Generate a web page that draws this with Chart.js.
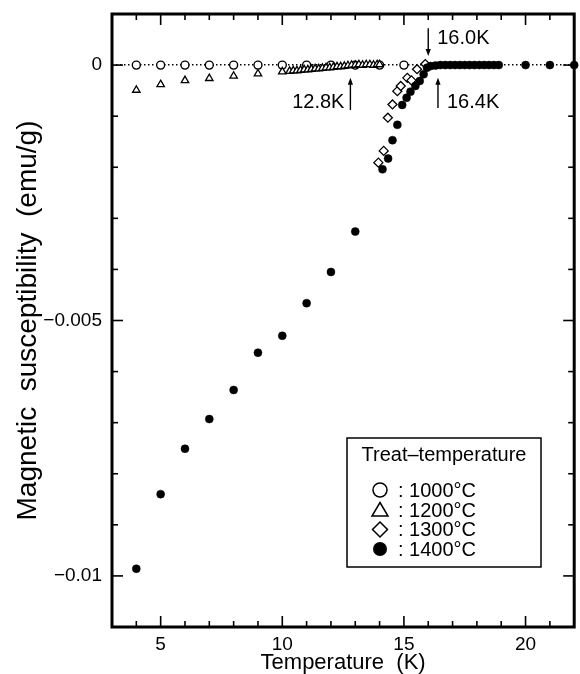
<!DOCTYPE html>
<html><head><meta charset="utf-8">
<script src="https://cdn.jsdelivr.net/npm/chart.js@4.4.0/dist/chart.umd.min.js"></script>
<style>html,body{margin:0;padding:0;background:#fff}canvas{display:block}</style>
</head><body>
<canvas id="c" width="580" height="674"></canvas>
<script>
// ---------- data ----------
const seriesLabels = ["1000°C", "1200°C", "1300°C", "1400°C"];
const legendTitle = "Treat–temperature";

const t1000 = [4, 5, 6, 7, 8, 9, 10, 11, 12, 13, 14, 15];
const chi1000 = [0, 0, 0, 0, 0, 0, 0, 0, 0, 0, 0, 0];

const t1200 = [4, 5, 6, 7, 8, 9, 10,
  10.3, 10.45, 10.6, 10.75, 10.9, 11.05, 11.2, 11.35, 11.5, 11.65, 11.8, 11.95, 12.1,
  12.25, 12.4, 12.55, 12.7, 12.85, 13.0, 13.15, 13.3, 13.45, 13.6, 13.75, 13.9, 14.0];
const chi1200 = [-0.00049, -0.00038, -0.00030, -0.00026, -0.000215, -0.00017, -0.00013,
  -0.00012, -0.00011, -0.00011, -0.00010, -0.00009, -0.00009, -0.00008, -0.00007, -0.00007, -0.00006, -0.00005, -0.00005, -0.00004,
  -0.00003, -0.00003, -0.00002, -0.00001, 0, 0, 0.00001, 0, 0.00001, 0.00001, 0, 0.00001, 0.00001];

const t1300 = [13.95, 14.17, 14.34, 14.53, 14.73, 14.87, 15.14, 15.31, 15.54, 15.88];
const chi1300 = [-0.00191, -0.00168, -0.00103, -0.00077, -0.00051, -0.00041, -0.00025, -0.00030, -0.00008, 0.00002];

const t1400 = [4, 5, 6, 7, 8, 9, 10, 11, 12, 13,
  14.12, 14.35, 14.53, 14.73, 14.93, 15.11, 15.27, 15.47, 15.65, 15.81, 15.95,
  16.1, 16.3, 16.5, 16.7, 16.9, 17.1, 17.3, 17.5, 17.7, 17.9, 18.1, 18.3, 18.5, 18.7, 18.9,
  20, 21, 22];
const chi1400 = [-0.00986, -0.0084, -0.00751, -0.00693, -0.00636, -0.00563, -0.0053, -0.00466, -0.00405, -0.00326,
  -0.00204, -0.00183, -0.00147, -0.00117, -0.00078, -0.00064, -0.00052, -0.00041, -0.00031, -0.00018, -0.00005,
  -0.00002, -0.00001, 0, 0, 0, 0, 0, 0, 0, 0, 0, 0, 0, 0, 0,
  0, 0, 0];

const xTickValues = [5, 10, 15, 20];
const xTickLabels = ["5", "10", "15", "20"];
const yTickValues = [0, -0.005, -0.01];
const yTickLabels = ["0", "−0.005", "−0.01"];

// annotations: temperature marks
const markTemps = [12.8, 16.0, 16.4];
const markLabels = ["12.8K", "16.0K", "16.4K"];
const markTip = [-0.00025, 0.00018, -0.00025];   // arrow tip (emu/g)
const markTail = [-0.00088, 0.00072, -0.00084];  // arrow tail (emu/g)
const markTextY = [-0.00074, 0.00053, -0.00074];

const xMin = 3, xMax = 22, yMin = -0.011, yMax = 0.001;
const xStep = 1, yStep = 0.001;

// ---------- helpers ----------
const FONT = "'Liberation Sans', Arial, Helvetica, sans-serif";
const pts = (xs, ys) => xs.map((v, i) => ({x: v, y: ys[i]}));

const framePlugin = {
  id: 'frameTicks',
  afterDraw(chart) {
    const {ctx, chartArea: a, scales: {x, y}} = chart;
    ctx.save();
    ctx.strokeStyle = '#000';
    ctx.fillStyle = '#000';
    ctx.lineCap = 'butt';
    const line = (x1, y1, x2, y2) => { ctx.beginPath(); ctx.moveTo(x1, y1); ctx.lineTo(x2, y2); ctx.stroke(); };
    ctx.lineWidth = 1.6;
    for (let v = xMin + xStep; v < xMax - 1e-9; v += xStep) {
      const px = x.getPixelForValue(v);
      const L = (Math.round(v) % 5 === 0) ? 11 : 6;
      line(px, a.bottom, px, a.bottom - L);
      line(px, a.top, px, a.top + L);
    }
    const kMin = Math.round(yMin / yStep), kMax = Math.round(yMax / yStep);
    for (let k = kMin + 1; k < kMax; k++) {
      const py = y.getPixelForValue(k * yStep);
      const L = (k % 5 === 0) ? 11 : 6;
      line(a.left, py, a.left + L, py);
      line(a.right, py, a.right - L, py);
    }
    ctx.lineWidth = 3;
    ctx.strokeRect(a.left, a.top, a.width, a.height);

    // arrows + labels
    ctx.lineWidth = 1.4;
    ctx.font = "20px " + FONT;
    ctx.textBaseline = 'middle';
    markTemps.forEach((t, i) => {
      const px = x.getPixelForValue(t);
      const pTip = y.getPixelForValue(markTip[i]);
      const pTail = y.getPixelForValue(markTail[i]);
      const dir = pTip < pTail ? -1 : 1; // -1 up
      line(px, pTail, px, pTip - dir * 5);
      ctx.beginPath();
      ctx.moveTo(px, pTip);
      ctx.lineTo(px - 2.6, pTip - dir * 7);
      ctx.lineTo(px + 2.6, pTip - dir * 7);
      ctx.closePath(); ctx.fill();
      const ty = y.getPixelForValue(markTextY[i]);
      if (i === 0) { ctx.textAlign = 'right'; ctx.fillText(markLabels[i], px - 6, ty); }
      else { ctx.textAlign = 'left'; ctx.fillText(markLabels[i], px + 9, ty); }
    });

    // legend box
    const bx = 347, by = 438, bw = 194, bh = 129;
    ctx.lineWidth = 1.5;
    ctx.strokeRect(bx, by, bw, bh);
    ctx.textAlign = 'center';
    ctx.font = "20px " + FONT;
    ctx.fillText(legendTitle, bx + bw / 2, by + 17);
    const rows = [490, 510, 529.5, 549];
    const sx = 380;
    chart.data.datasets.forEach((ds, i) => {
      const yy = rows[i];
      ctx.lineWidth = 1.5;
      const st = ds.pointStyle, r = 7;
      ctx.beginPath();
      if (st === 'circle') { ctx.arc(sx, yy, r, 0, Math.PI * 2); }
      else if (st === 'triangle') { ctx.moveTo(sx, yy - 7.5); ctx.lineTo(sx + 8, yy + 6); ctx.lineTo(sx - 8, yy + 6); ctx.closePath(); }
      else if (st === 'rectRot') { ctx.moveTo(sx, yy - 7.5); ctx.lineTo(sx + 7.5, yy); ctx.lineTo(sx, yy + 7.5); ctx.lineTo(sx - 7.5, yy); ctx.closePath(); }
      if (ds.pointBackgroundColor === '#000') ctx.fill(); else ctx.stroke();
      ctx.textAlign = 'left';
      ctx.fillText(": " + ds.label, 398, yy + 1);
    });
    ctx.restore();
  }
};

new Chart(document.getElementById('c'), {
  type: 'scatter',
  data: {
    datasets: [
      {label: seriesLabels[0], data: pts(t1000, chi1000), pointStyle: 'circle', pointRadius: 4,
       borderColor: '#000', pointBackgroundColor: '#fff', backgroundColor: '#fff', pointBorderWidth: 1.4, order: 3},
      {label: seriesLabels[1], data: pts(t1200, chi1200), pointStyle: 'triangle', pointRadius: 4.3,
       borderColor: '#000', pointBackgroundColor: '#fff', backgroundColor: '#fff', pointBorderWidth: 1.3, order: 2},
      {label: seriesLabels[2], data: pts(t1300, chi1300), pointStyle: 'rectRot', pointRadius: 4.5,
       borderColor: '#000', pointBackgroundColor: '#fff', backgroundColor: '#fff', pointBorderWidth: 1.3, order: 1},
      {label: seriesLabels[3], data: pts(t1400, chi1400), pointStyle: 'circle', pointRadius: 4,
       borderColor: '#000', pointBackgroundColor: '#000', backgroundColor: '#000', pointBorderWidth: 0.5, order: 0, clip: false}
    ]
  },
  options: {
    responsive: false,
    animation: false,
    events: [],
    layout: {padding: {left: 0, right: 2, top: 14, bottom: 0}},
    plugins: {legend: {display: false}, tooltip: {enabled: false}},
    scales: {
      x: {
        type: 'linear', min: xMin, max: xMax,
        grid: {display: false, drawTicks: false},
        border: {display: false},
        ticks: {stepSize: xStep, autoSkip: false, maxRotation: 0, padding: 6, color: '#000',
          font: {family: FONT, size: 19},
          callback: v => { const i = xTickValues.findIndex(t => Math.abs(t - v) < 1e-9); return i >= 0 ? xTickLabels[i] : ''; }},
        title: {display: true, text: 'Temperature  (K)', color: '#000', font: {family: FONT, size: 22, lineHeight: 1}, padding: {top: 0, bottom: 0}},
        afterFit: s => { s.height = 47; s.paddingLeft = 0; s.paddingRight = 0; }
      },
      y: {
        type: 'linear', min: yMin, max: yMax,
        grid: {drawTicks: false, lineWidth: 1.4,
          color: c => (Math.abs(c.tick.value) < 1e-9 ? '#000' : 'rgba(0,0,0,0)')},
        border: {display: false, dash: [1.5, 2.5]},
        ticks: {stepSize: yStep, autoSkip: false, padding: 10, color: '#000',
          font: {family: FONT, size: 19},
          callback: v => { const i = yTickValues.findIndex(t => Math.abs(t - v) < 1e-9); return i >= 0 ? yTickLabels[i] : ''; }},
        title: {display: true, text: 'Magnetic  susceptibility  (emu/g)', color: '#000', font: {family: FONT, size: 28, lineHeight: 1}, padding: {top: 14, bottom: 0}},
        afterFit: s => { s.width = 112; s.paddingTop = 0; s.paddingBottom = 0; }
      }
    }
  },
  plugins: [framePlugin]
});
</script>
</body></html>
